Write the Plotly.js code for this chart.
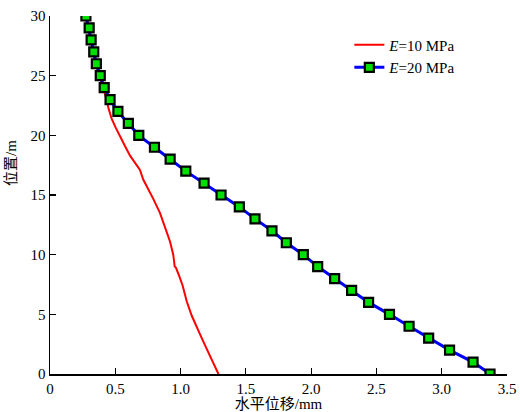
<!DOCTYPE html>
<html>
<head>
<meta charset="utf-8">
<script src="https://cdn.plot.ly/plotly-3.0.1.min.js"></script>
<style>html,body{margin:0;padding:0;background:#fff;}#chart{width:520px;height:412px;}</style>
</head>
<body>
<div id="chart"></div>
<script>
// E = 10 MPa (red line)
const redY = [0, 1.0, 2.1, 3.3, 4.9, 6.1, 7.4, 8.2, 8.9, 9.0, 10.0, 11.1, 12.4, 13.5, 14.7, 16.3, 17.1, 18.3, 19.1, 19.9, 20.6, 21.4, 22.3, 23.0, 23.7, 25, 26, 27, 28, 29, 30];
const redX = [1.29, 1.25, 1.20, 1.15, 1.085, 1.047, 1.016, 0.99, 0.965, 0.955, 0.944, 0.919, 0.88, 0.842, 0.79, 0.714, 0.689, 0.613, 0.574, 0.536, 0.505, 0.472, 0.447, 0.434, 0.413, 0.38, 0.35, 0.33, 0.31, 0.30, 0.276];

// E = 20 MPa (blue line with green squares)
const blueY = [0, 1, 2, 3, 4, 5, 6, 7, 8, 9, 10, 11, 12, 13, 14, 15, 16, 17, 18, 19, 20, 21, 22, 23, 24, 25, 26, 27, 28, 29, 30];
const blueX = [3.37, 3.24, 3.06, 2.90, 2.75, 2.60, 2.44, 2.31, 2.18, 2.05, 1.94, 1.81, 1.70, 1.57, 1.45, 1.31, 1.18, 1.04, 0.92, 0.80, 0.68, 0.60, 0.52, 0.46, 0.415, 0.385, 0.355, 0.335, 0.315, 0.30, 0.275];

const xTickVals = [0, 0.5, 1.0, 1.5, 2.0, 2.5, 3.0, 3.5];
const xTickText = ['0', '0.5', '1.0', '1.5', '2.0', '2.5', '3.0', '3.5'];
const yTickVals = [0, 5, 10, 15, 20, 25, 30];
const yTickText = ['0', '5', '10', '15', '20', '25', '30'];

const serif = 'Liberation Serif, Times New Roman, Noto Sans CJK SC, serif';

const traces = [
  {
    x: redX, y: redY, type: 'scatter', mode: 'lines',
    name: '<i>E</i>=10 MPa',
    line: {color: '#ff0000', width: 2}
  },
  {
    x: blueX, y: blueY, type: 'scatter', mode: 'lines+markers',
    name: '<i>E</i>=20 MPa',
    line: {color: '#0000ff', width: 3},
    marker: {symbol: 'square', size: 9, color: '#00e000', line: {color: '#000000', width: 2.2}}
  }
];

const layout = {
  width: 520, height: 412,
  margin: {l: 50, r: 13, t: 16, b: 38},
  paper_bgcolor: '#ffffff', plot_bgcolor: '#ffffff',
  font: {family: serif, size: 15, color: '#000'},
  showlegend: true,
  legend: {
    x: 0.655, y: 0.965, xanchor: 'left', yanchor: 'top',
    bgcolor: 'rgba(0,0,0,0)', borderwidth: 0,
    font: {family: serif, size: 15, color: '#000'},
    itemwidth: 30, tracegroupgap: 0
  },
  xaxis: {
    range: [0, 3.5], autorange: false,
    tickvals: xTickVals, ticktext: xTickText,
    ticks: 'inside', ticklen: 6, tickwidth: 1.2, tickcolor: '#000',
    showline: true, linecolor: '#000', linewidth: 1.5,
    showgrid: false, zeroline: false, mirror: false,
    tickfont: {family: serif, size: 15, color: '#000'},
    title: {text: '水平位移/mm', font: {family: serif, size: 15, color: '#000'}, standoff: 1}
  },
  yaxis: {
    range: [0, 30], autorange: false,
    tickvals: yTickVals, ticktext: yTickText,
    ticks: 'inside', ticklen: 6, tickwidth: 1.2, tickcolor: '#000',
    showline: true, linecolor: '#000', linewidth: 1.5,
    showgrid: false, zeroline: false, mirror: false,
    tickfont: {family: serif, size: 15, color: '#000'}
  },
  annotations: [{
    text: '位置/m', textangle: -90, showarrow: false,
    xref: 'paper', yref: 'paper', x: -0.085, y: 0.59,
    xanchor: 'center', yanchor: 'middle',
    font: {family: serif, size: 15, color: '#000'}
  }]
};

Plotly.newPlot('chart', traces, layout, {displayModeBar: false, staticPlot: true});
</script>
</body>
</html>
